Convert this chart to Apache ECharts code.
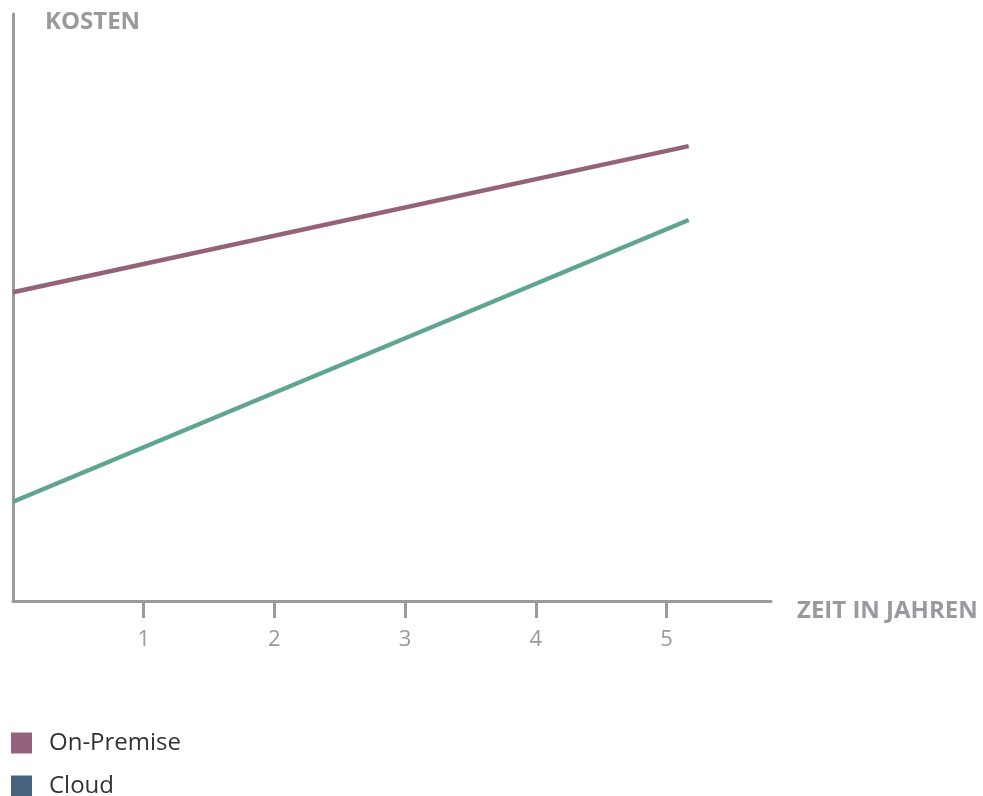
<!DOCTYPE html>
<html>
<head>
<meta charset="utf-8">
<script src="https://cdn.jsdelivr.net/npm/echarts@6/dist/echarts.min.js"></script>
<style>
  html, body { margin: 0; padding: 0; background: #fff; }
  #chart { width: 983px; height: 796px; }
</style>
</head>
<body>
<div id="chart"></div>
<script>
// Years on the horizontal axis and cost values (relative units)
const years = [0, 5.17];
const onPremise = [52.6, 77.5];
const cloud = [16.9, 64.9];
const tickYears = [1, 2, 3, 4, 5];
const seriesNames = ['On-Premise', 'Cloud'];

const axisGrey = '#9a9a9e';
const font = '"Open Sans", sans-serif';

const chart = echarts.init(document.getElementById('chart'), null, { renderer: 'canvas' });

chart.setOption({
  animation: false,
  backgroundColor: '#ffffff',
  grid: { left: 13, top: 14, right: 212, bottom: 195, containLabel: false },
  xAxis: {
    type: 'value',
    min: 0,
    max: 5.8,
    name: 'ZEIT IN JAHREN',
    nameLocation: 'end',
    nameGap: 26,
    nameTextStyle: {
      color: axisGrey, fontFamily: font, fontWeight: 'bold', fontSize: 24,
      verticalAlign: 'top', padding: [-2, 0, 0, 0]
    },
    axisLine: { show: true, lineStyle: { color: axisGrey, width: 3 } },
    axisTick: { show: true, length: 17, customValues: tickYears, lineStyle: { color: axisGrey, width: 3 } },
    axisLabel: {
      customValues: tickYears, color: axisGrey, fontFamily: font, fontSize: 22, margin: 28
    },
    splitLine: { show: false }
  },
  yAxis: {
    type: 'value',
    min: 0,
    max: 100,
    name: 'KOSTEN',
    nameLocation: 'end',
    nameGap: -8,
    nameTextStyle: {
      color: axisGrey, fontFamily: font, fontWeight: 'bold', fontSize: 24,
      align: 'left', verticalAlign: 'middle', padding: [0, 0, 0, 32]
    },
    axisLine: { show: true, lineStyle: { color: axisGrey, width: 3 } },
    axisTick: { show: false },
    axisLabel: { show: false },
    splitLine: { show: false }
  },
  legend: {
    orient: 'vertical',
    left: 11,
    top: 731,
    height: 120,
    padding: 0,
    itemWidth: 21,
    itemHeight: 21,
    itemGap: 19,
    icon: 'rect',
    textStyle: { color: '#333333', fontFamily: font, fontSize: 24, lineHeight: 21, padding: [0, 0, 0, 12] },
    data: [
      { name: seriesNames[0], itemStyle: { color: '#94627a', borderWidth: 0 } },
      { name: seriesNames[1], itemStyle: { color: '#46647f', borderWidth: 0 } }
    ]
  },
  series: [
    {
      name: seriesNames[0],
      type: 'line',
      data: years.map((x, i) => [x, onPremise[i]]),
      showSymbol: false,
      symbol: 'none',
      lineStyle: { color: '#946379', width: 4.5 },
      itemStyle: { color: '#946379' }
    },
    {
      name: seriesNames[1],
      type: 'line',
      data: years.map((x, i) => [x, cloud[i]]),
      showSymbol: false,
      symbol: 'none',
      lineStyle: { color: '#60a592', width: 4.5 },
      itemStyle: { color: '#60a592' }
    }
  ]
});
</script>
</body>
</html>
